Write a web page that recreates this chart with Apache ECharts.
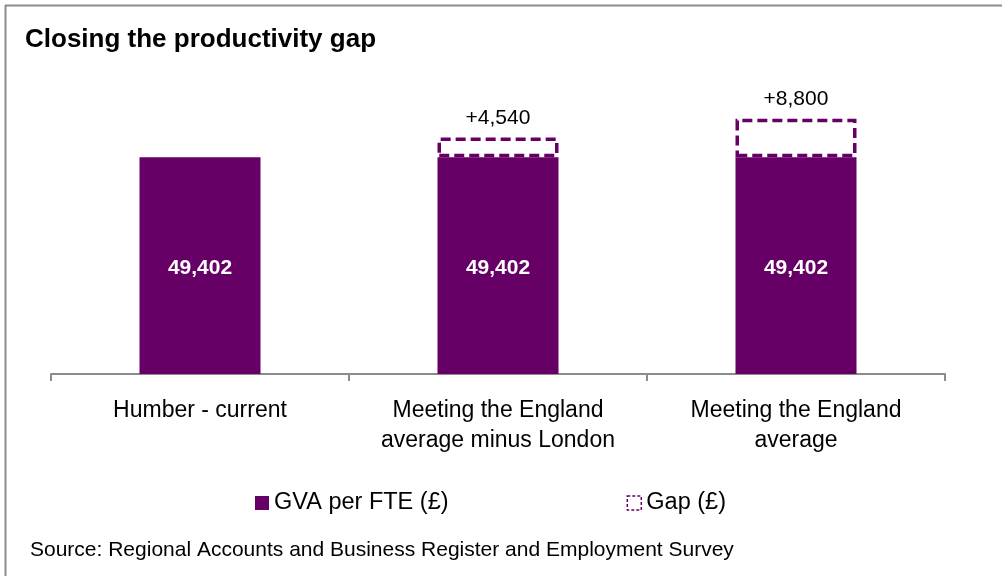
<!DOCTYPE html>
<html>
<head>
<meta charset="utf-8">
<script src="https://cdn.jsdelivr.net/npm/echarts@6/dist/echarts.min.js"></script>
<style>
html,body{margin:0;padding:0;background:#fff;}
#chart{width:1002px;height:576px;}
</style>
</head>
<body>
<div id="chart"></div>
<script>
const categories = ['Humber - current', 'Meeting the England\naverage minus London', 'Meeting the England\naverage'];
const gvaValues = [49402, 49402, 49402];
const gapValues = ['-', 4540, 8800];
const seriesNames = ['GVA per FTE (£)', 'Gap (£)'];
const titleText = 'Closing the productivity gap';
const sourceText = 'Source: Regional Accounts and Business Register and Employment Survey';

const purple = '#660066';
const font = 'Liberation Sans, Arial, sans-serif';
const fmt = v => Number(v).toLocaleString('en-US');

const chart = echarts.init(document.getElementById('chart'), null, {renderer: 'canvas'});
chart.setOption({
  animation: false,
  backgroundColor: '#fff',
  title: {
    text: titleText,
    left: 20, top: 22,
    textStyle: {fontFamily: font, fontSize: 26, fontWeight: 'bold', color: '#000'}
  },
  grid: {left: 51, right: 57, top: 67, bottom: 202, containLabel: false},
  xAxis: {
    type: 'category',
    data: categories,
    boundaryGap: true,
    axisLine: {lineStyle: {color: '#8c8c8c', width: 2}},
    axisTick: {show: true, length: 7, lineStyle: {color: '#8c8c8c', width: 2}},
    axisLabel: {fontFamily: font, fontSize: 23, color: '#000', lineHeight: 30, margin: 22, interval: 0}
  },
  yAxis: {type: 'value', min: 0, max: 70000, show: false, splitLine: {show: false}},
  legend: {
    left: 250, top: 486,
    itemWidth: 14, itemHeight: 14, itemGap: 178,
    textStyle: {fontFamily: font, fontSize: 23.5, color: '#000'},
    data: [
      {name: seriesNames[0], icon: 'rect'},
      {name: seriesNames[1], icon: 'rect', itemStyle: {color: '#fff', borderColor: purple, borderWidth: 1.5, borderType: [3, 2]}}
    ]
  },
  series: [
    {
      name: seriesNames[0], type: 'bar', stack: 'a', barWidth: 121,
      data: gvaValues,
      itemStyle: {color: purple},
      label: {show: true, position: 'inside', offset: [0, 3], color: '#fff', fontFamily: font, fontSize: 21, fontWeight: 'bold', formatter: p => fmt(p.value)}
    },
    {
      name: seriesNames[1], type: 'bar', stack: 'a', barWidth: 121,
      data: gapValues,
      itemStyle: {color: '#fff', borderColor: purple, borderWidth: 3.5, borderType: [10, 5]},
      label: {show: true, position: 'top', distance: 9, color: '#000', fontFamily: font, fontSize: 21, formatter: p => '+' + fmt(p.value)}
    }
  ],
  graphic: [
    {type: 'line', shape: {x1: 5, y1: 5.5, x2: 1002, y2: 5.5}, style: {stroke: '#8c8c8c', lineWidth: 2}},
    {type: 'line', shape: {x1: 5.5, y1: 5, x2: 5.5, y2: 576}, style: {stroke: '#8c8c8c', lineWidth: 2}},
    {type: 'text', x: 30, y: 550, style: {text: sourceText, fontFamily: font, fontSize: 21, fill: '#000', verticalAlign: 'middle'}}
  ]
});
</script>
</body>
</html>
